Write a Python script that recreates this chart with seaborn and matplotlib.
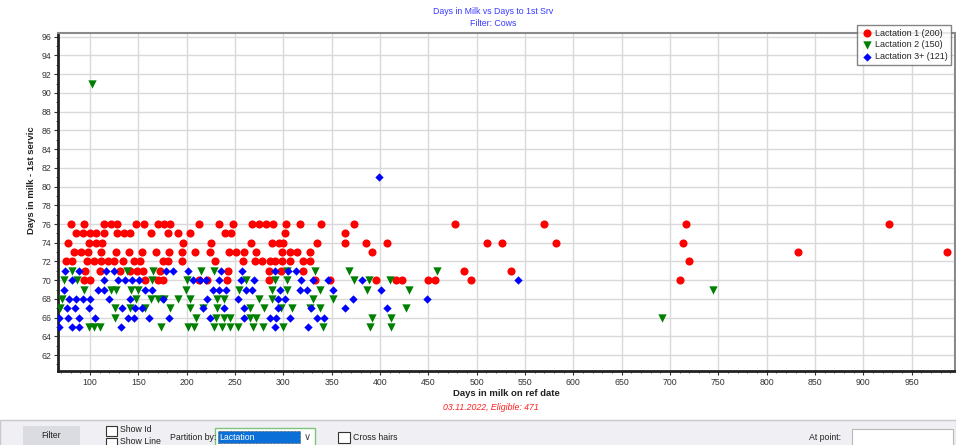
import matplotlib
matplotlib.use("Agg")
import matplotlib.pyplot as plt
from matplotlib.patches import Rectangle
from matplotlib.ticker import MultipleLocator
import seaborn as sns
import pandas as pd

# Days to first service -> days in milk on the reference date, per lactation group
lact1 = {
    76: [80, 94, 115, 122, 128, 148, 156, 170, 177, 183, 213, 234, 248, 268, 275, 282,
         289, 303, 317, 339, 373, 478, 570, 717, 927],
    75: [86, 93, 100, 106, 115, 128, 135, 142, 163, 181, 191, 204, 240, 246, 302, 364],
    74: [77, 99, 106, 113, 196, 225, 267, 288, 296, 300, 335, 364, 386, 407, 511, 526,
         582, 714],
    73: [84, 91, 98, 112, 127, 140, 154, 168, 182, 195, 209, 224, 244, 251, 259, 272,
         299, 307, 314, 328, 392, 833, 987],
    72: [75, 82, 97, 104, 111, 119, 125, 134, 146, 152, 176, 181, 195, 229, 258, 271,
         278, 286, 292, 299, 307, 320, 328, 720],
    71: [95, 110, 131, 142, 149, 155, 173, 243, 285, 298, 320, 487, 536],
    70: [94, 100, 157, 170, 176, 213, 221, 242, 285, 333, 348, 396, 417, 423, 450, 457,
         494, 710],
}
lact2 = {
    91: [102],
    71: [81, 138, 165, 215, 228, 304, 333, 368, 459],
    70: [73, 87, 164, 200, 262, 291, 304, 373, 389, 410],
    69: [94, 122, 127, 143, 150, 199, 254, 288, 304, 338, 387, 430, 745],
    68: [71, 148, 163, 170, 177, 191, 204, 232, 239, 275, 288, 331, 352],
    67: [69, 126, 141, 157, 183, 204, 217, 232, 266, 280, 298, 309, 328, 338, 427],
    66: [126, 210, 230, 239, 245, 266, 272, 392, 411, 692],
    65: [99, 104, 110, 174, 202, 208, 228, 237, 245, 253, 269, 279, 300, 341, 390, 411],
}
lact3 = {
    81: [399],
    71: [74, 89, 117, 125, 179, 186, 201, 236, 257, 292, 305, 313],
    70: [81, 115, 129, 136, 144, 151, 207, 214, 220, 234, 256, 270, 318, 331, 346, 381,
         543],
    69: [73, 108, 115, 157, 164, 227, 234, 241, 261, 268, 297, 317, 325, 351, 401],
    68: [78, 86, 93, 100, 120, 142, 176, 221, 253, 295, 302, 372, 449],
    67: [76, 85, 99, 133, 147, 154, 217, 239, 259, 295, 329, 364, 407],
    66: [68, 77, 89, 105, 139, 146, 161, 182, 224, 259, 286, 293, 307, 335, 342],
    65: [68, 81, 89, 132, 291, 326],
}
group_labels = ["Lactation 1 (200)", "Lactation 2 (150)", "Lactation 3+ (121)"]
group_colors = ["#ff0000", "#008000", "#0000ff"]
group_markers = ["o", "v", "D"]
x_ticks = list(range(100, 1000, 50))
y_ticks = list(range(62, 97, 2))

rows = []
for label, table in zip(group_labels, [lact1, lact2, lact3]):
    for dfs, dims in table.items():
        for dim in dims:
            rows.append({"dim": dim, "dfs": dfs, "group": label})
df = pd.DataFrame(rows)

sns.set_theme(style="white")
plt.rcParams["font.family"] = ["Liberation Sans", "DejaVu Sans"]

W, H = 956, 445
fig = plt.figure(figsize=(W / 100, H / 100), dpi=100)
ax = fig.add_axes([58 / W, 1 - 371 / H, (955 - 58) / W, (371 - 33) / H])

sizes = {group_labels[0]: 34, group_labels[1]: 36, group_labels[2]: 18}
for label, color, marker in zip(group_labels, group_colors, group_markers):
    sub = df[df["group"] == label]
    sns.scatterplot(data=sub, x="dim", y="dfs", color=color, marker=marker,
                    s=sizes[label], linewidth=0, ax=ax, label=label, zorder=3)

ax.set_xlim(67, 995)
ax.set_ylim(60.3, 96.4)
ax.set_xticks(x_ticks)
ax.set_yticks(y_ticks)
ax.xaxis.set_minor_locator(MultipleLocator(10))
ax.yaxis.set_minor_locator(MultipleLocator(1))
ax.grid(True, which="major", color="#d9d9d9", linewidth=1.0, zorder=0)
ax.set_axisbelow(True)
ax.tick_params(axis="both", which="major", direction="out", length=3, width=0.8,
               colors="#333333", labelsize=6.3, pad=2, bottom=True, left=True)
ax.tick_params(axis="both", which="minor", direction="out", length=1.5, width=0.6,
               colors="#333333", bottom=True, left=True)
ax.set_xlabel("")
ax.set_ylabel("")
for side in ["left", "bottom"]:
    ax.spines[side].set_color("#222222")
    ax.spines[side].set_linewidth(2.0)
for side in ["top", "right"]:
    ax.spines[side].set_color("#8a8a8a")
    ax.spines[side].set_linewidth(1.5)

leg = ax.legend(loc="upper right", bbox_to_anchor=(951 / W, 1 - 25 / H),
                bbox_transform=fig.transFigure, fontsize=6.5, frameon=True,
                fancybox=False, shadow=False, borderpad=0.4, labelspacing=0.3,
                handletextpad=0.3, handlelength=1.2, borderaxespad=0)
leg.get_frame().set_edgecolor("#666666")
leg.get_frame().set_linewidth(1.0)
leg.set_zorder(10)

fig.text(493 / W, 1 - 12 / H, "Days in Milk vs Days to 1st Srv", color="#3a3aff",
         fontsize=6.3, ha="center", va="center")
fig.text(493 / W, 1 - 24 / H, "Filter: Cows", color="#3a3aff",
         fontsize=6.3, ha="center", va="center")
fig.text(32 / W, 1 - 180 / H, "Days in milk - 1st servic", rotation=90,
         fontsize=6.8, fontweight="bold", color="#222222", ha="center", va="center")
fig.text(506.5 / W, 1 - 393 / H, "Days in milk on ref date", fontsize=6.8,
         fontweight="bold", color="#222222", ha="center", va="center")
fig.text(491 / W, 1 - 408 / H, "03.11.2022, Eligible: 471", fontsize=6.3,
         style="italic", color="#ff2020", ha="center", va="center")


def px_rect(x0, y0, x1, y1, **kw):
    """Rectangle given in pixel coordinates from the top-left corner."""
    fig.patches.append(Rectangle((x0 / W, 1 - y1 / H), (x1 - x0) / W, (y1 - y0) / H,
                                 transform=fig.transFigure, figure=fig, **kw))


def px_text(x, y, s, **kw):
    fig.text(x / W, 1 - y / H, s, va="center", **kw)


# control panel along the bottom edge
px_rect(0, 420, W, H + 2, facecolor="#f0f0f4", edgecolor="#c8c8cc", linewidth=1.0)
px_rect(23, 426, 80, H + 2, facecolor="#dadce2", edgecolor="none")
px_text(51.5, 435, "Filter", fontsize=6.3, ha="center", color="#222222")
px_rect(106, 426, 116.5, 435.5, facecolor="white", edgecolor="#333333", linewidth=0.8)
px_rect(106, 437.5, 116.5, H + 2, facecolor="white", edgecolor="#333333", linewidth=0.8)
px_text(120.5, 430, "Show Id", fontsize=6.3, ha="left", color="#222222")
px_text(120.5, 442, "Show Line", fontsize=6.3, ha="left", color="#222222")
px_text(170, 437, "Partition by:", fontsize=6.3, ha="left", color="#222222")
px_rect(215, 428, 315, H + 2, facecolor="white", edgecolor="#7cc47c", linewidth=1.0)
px_rect(217.5, 431, 300, 443, facecolor="#0a6fd6", edgecolor="#333333",
        linewidth=0.5, linestyle=(0, (1, 1)))
px_text(219.5, 437, "Lactation", fontsize=6.3, ha="left", color="white")
px_text(307, 437, "\u2228", fontsize=7, ha="center", color="#444444")
px_rect(338, 432, 349.5, 443, facecolor="white", edgecolor="#333333", linewidth=0.8)
px_text(353, 437, "Cross hairs", fontsize=6.3, ha="left", color="#222222")
px_text(809, 437.5, "At point:", fontsize=6.3, ha="left", color="#222222")
px_rect(852, 429, 953, H + 2, facecolor="white", edgecolor="#b8b8b8", linewidth=0.8)

fig.savefig("out.png", dpi=100)
